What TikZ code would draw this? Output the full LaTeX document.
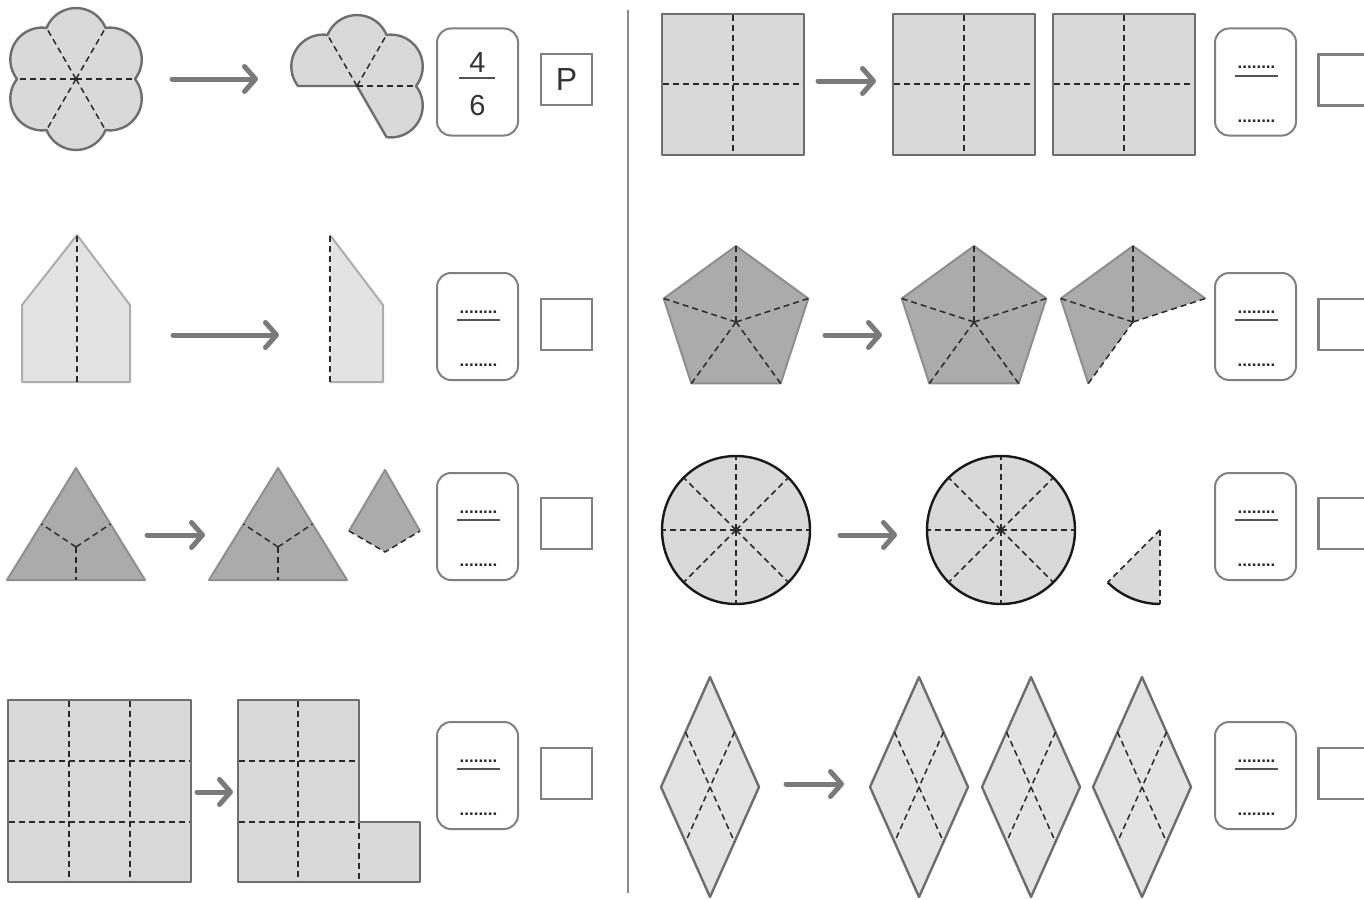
\documentclass[tikz,border=0pt]{standalone}
\usepackage{fontspec}
\setmainfont{Liberation Sans}
\usetikzlibrary{arrows.meta,calc}
\definecolor{lightfill}{HTML}{D9D9D9}
\definecolor{palefill}{HTML}{E3E3E3}
\definecolor{darkfill}{HTML}{ABABAB}
\definecolor{edgecol}{HTML}{6E6E6E}
\definecolor{paleedge}{HTML}{ADADAD}
\definecolor{darkedge}{HTML}{8E8E8E}
\definecolor{arrowgray}{HTML}{7A7A7A}
\definecolor{boxgray}{HTML}{808080}
\definecolor{dashcol}{HTML}{2A2A2A}
\definecolor{textcol}{HTML}{333333}
\definecolor{divcol}{HTML}{8A8A8A}
\tikzset{
  lightshape/.style={fill=lightfill, draw=edgecol, line width=2.4pt, line join=round},
  paleshape/.style={fill=palefill, draw=paleedge, line width=2pt, line join=round},
  darkshape/.style={fill=darkfill, draw=darkedge, line width=2pt, line join=round},
  rhombshape/.style={fill=palefill, draw=edgecol, line width=2.4pt, line join=round},
  fold/.style={draw=dashcol, line width=1.5pt, dash pattern=on 6pt off 4pt},
  movearrow/.style={draw=arrowgray, line width=5pt, line cap=round,
    -{Straight Barb[length=11pt,width=25pt,round]}},
  fracbox/.style={draw=boxgray, line width=2pt, rounded corners=14pt,
    minimum width=81pt, minimum height=107pt, inner sep=0pt},
  ansbox/.style={draw=boxgray, line width=2.6pt, minimum width=51pt,
    minimum height=51pt, inner sep=0pt, text=textcol,
    font=\fontsize{32}{32}\selectfont},
  digit/.style={text=textcol, inner sep=0pt, font=\fontsize{29}{29}\selectfont},
  dots/.style={text=textcol!80!black, inner sep=0pt, anchor=base, font=\fontsize{17}{17}\selectfont\bfseries},
  barline/.style={draw=textcol!85!white, line width=2pt},
}
\begin{document}
\begin{tikzpicture}[x=1pt,y=1pt]
\useasboundingbox (0,0) rectangle (1364,-899);
\clip (0,0) rectangle (1364,-899);

% divider
\draw[draw=divcol, line width=2.5pt] (628,-10) -- (628,-893);

% ================= LEFT COLUMN =================
% Row 1: flower
\coordinate (f1) at (76,-79);
\filldraw[lightshape] ($(f1)+(0:59)$)
  \foreach \t in {30,90,...,330} { arc[start angle=\t-68, end angle=\t+68, radius=31.8] } -- cycle;
\foreach \a in {0,60,...,300} \draw[fold] (f1) -- ++(\a:59);
\coordinate (a1s) at (172,-79); \coordinate (a1e) at (258,-79);
\draw[movearrow] (a1s) -- (a1e);
\coordinate (f2) at (357,-86);
\filldraw[lightshape] (f2) -- ++(300:59)
  \foreach \t in {330,390,450,510} { arc[start angle=\t-68, end angle=\t+68, radius=31.8] } -- cycle;
\foreach \a in {0,60,120} \draw[fold] (f2) -- ++(\a:59);

% Row 2: house
\filldraw[paleshape] (77,-235) -- (130,-305) -- (130,-382) -- (22,-382) -- (22,-305) -- cycle;
\draw[fold] (77,-236) -- (77,-382);
\coordinate (a2s) at (173,-335); \coordinate (a2e) at (279,-335);
\draw[movearrow] (a2s) -- (a2e);
\fill[palefill] (330,-235) -- (383,-305) -- (383,-382) -- (330,-382) -- cycle;
\draw[draw=paleedge, line width=2pt, line join=round] (330,-235) -- (383,-305) -- (383,-382) -- (330,-382);
\draw[fold] (330,-236) -- (330,-382);

% Row 3: triangles
\filldraw[darkshape] (76,-468) -- (145,-580) -- (7,-580) -- cycle;
\coordinate (t1) at (76,-547);
\draw[fold] (t1) -- (41.5,-524); \draw[fold] (t1) -- (110.5,-524); \draw[fold] (t1) -- (76,-580);
\coordinate (a3s) at (147,-535); \coordinate (a3e) at (205,-535);
\draw[movearrow] (a3s) -- (a3e);
\filldraw[darkshape] (278,-468) -- (347,-580) -- (209,-580) -- cycle;
\coordinate (t2) at (278,-547);
\draw[fold] (t2) -- (243.5,-524); \draw[fold] (t2) -- (312.5,-524); \draw[fold] (t2) -- (278,-580);
\fill[darkfill] (385,-470) -- (420,-531) -- (385,-552) -- (349,-531) -- cycle;
\draw[draw=darkedge, line width=2pt, line join=round] (349,-531) -- (385,-470) -- (420,-531);
\draw[fold] (349,-531) -- (385,-552) -- (420,-531);

% Row 4: 3x3 square
\filldraw[lightshape] (8,-700) rectangle (191,-882);
\foreach \x in {69,130} \draw[fold] (\x,-701) -- (\x,-881);
\foreach \y in {-761,-822} \draw[fold] (9,\y) -- (190,\y);
\coordinate (a4s) at (197,-792); \coordinate (a4e) at (233,-792);
\draw[movearrow] (a4s) -- (a4e);
\filldraw[lightshape] (238,-700) -- (359,-700) -- (359,-822) -- (420,-822) -- (420,-882) -- (238,-882) -- cycle;
\draw[fold] (298,-701) -- (298,-881);
\draw[fold] (239,-761) -- (358,-761);
\draw[fold] (239,-822) -- (358,-822);
\draw[fold] (359,-823) -- (359,-881);

% ================= RIGHT COLUMN =================
% Row 1: rectangles
\foreach \x/\n in {662/r1, 893/r2, 1053/r3} {
  \filldraw[lightshape] (\x,-14) rectangle ++(142,-141);
  \draw[fold] (\x+71,-15) -- (\x+71,-154);
  \draw[fold] (\x+1,-84) -- (\x+141,-84);
}
\coordinate (b1s) at (818,-81); \coordinate (b1e) at (876,-81);
\draw[movearrow] (b1s) -- (b1e);

% Row 2: pentagons
\foreach \cx in {736,974} {
  \filldraw[darkshape] ($(\cx,-322)+(90:76)$)
    \foreach \a in {162,234,306,18} { -- ($(\cx,-322)+(\a:76)$) } -- cycle;
  \foreach \a in {90,162,234,306,18} \draw[fold] (\cx,-322) -- ++(\a:76);
}
\coordinate (b2s) at (825,-335); \coordinate (b2e) at (882,-335);
\draw[movearrow] (b2s) -- (b2e);
\coordinate (p3) at (1133,-322);
\fill[darkfill] ($(p3)+(90:76)$) -- ($(p3)+(18:76)$) -- (p3) -- ($(p3)+(234:76)$) -- ($(p3)+(162:76)$) -- cycle;
\draw[draw=darkedge, line width=2pt, line join=round] ($(p3)+(18:76)$) -- ($(p3)+(90:76)$) -- ($(p3)+(162:76)$) -- ($(p3)+(234:76)$);
\foreach \a in {90,162,234,18} \draw[fold] (p3) -- ++(\a:76);

% Row 3: circles
\foreach \cx in {736,1001} {
  \filldraw[fill=lightfill, draw=black!90, line width=2.4pt] (\cx,-530) circle[radius=74];
  \foreach \a in {0,45,...,315} \draw[fold] (\cx,-530) -- ++(\a:73);
}
\coordinate (b3s) at (840,-535); \coordinate (b3e) at (897,-535);
\draw[movearrow] (b3s) -- (b3e);
\coordinate (s3) at (1160,-530);
\fill[lightfill] (s3) -- ++(225:74) arc[start angle=225, end angle=270, radius=74] -- cycle;
\draw[draw=black!90, line width=2.4pt] ($(s3)+(225:74)$) arc[start angle=225, end angle=270, radius=74];
\draw[fold] (s3) -- ++(225:74);
\draw[fold] (s3) -- ++(270:74);

% Row 4: rhombi
\foreach \cx in {710,919,1031,1142} {
  \filldraw[rhombshape] (\cx,-677) -- (\cx+49,-787) -- (\cx,-897) -- (\cx-49,-787) -- cycle;
  \draw[fold] (\cx-24.5,-732) -- (\cx+24.5,-842);
  \draw[fold] (\cx+24.5,-732) -- (\cx-24.5,-842);
}
\coordinate (b4s) at (786,-784); \coordinate (b4e) at (844,-784);
\draw[movearrow] (b4s) -- (b4e);

% ================= ANSWER BOXES =================
\node[fracbox] (fl1) at (477.5,-82) {};
\node[digit] (num1) at (477.5,-63) {4};
\draw[barline] (459,-78) -- (495,-78);
\node[digit] (den1) at (477.5,-106) {6};
\node[ansbox] (sq1) at (566.5,-79.5) {P};

\foreach \cx/\sx/\side in {477.5/566.5/L, 1255.5/1344/R} {
  \foreach \T/\S/\r in {273/299/2, 473/498/3, 722/748/4} {
    \node[fracbox] (fb\side\r) at (\cx,-\T-53.5) {};
    \node[dots] (top\side\r) at (\cx+1,-\T-40) {........};
    \draw[barline] (\cx-21,-\T-47) -- (\cx+22,-\T-47);
    \node[dots] (bot\side\r) at (\cx+1,-\T-93) {........};
    \node[ansbox] (sq\side\r) at (\sx,-\S-25.5) {};
  }
}
\node[fracbox] (fbR1) at (1255.5,-82) {};
\node[dots] (topR1) at (1256.5,-69) {........};
\draw[barline] (1234.5,-76) -- (1277.5,-76);
\node[dots] (botR1) at (1256.5,-122) {........};
\node[ansbox] (sqR1) at (1344,-80) {};
\end{tikzpicture}
\end{document}
